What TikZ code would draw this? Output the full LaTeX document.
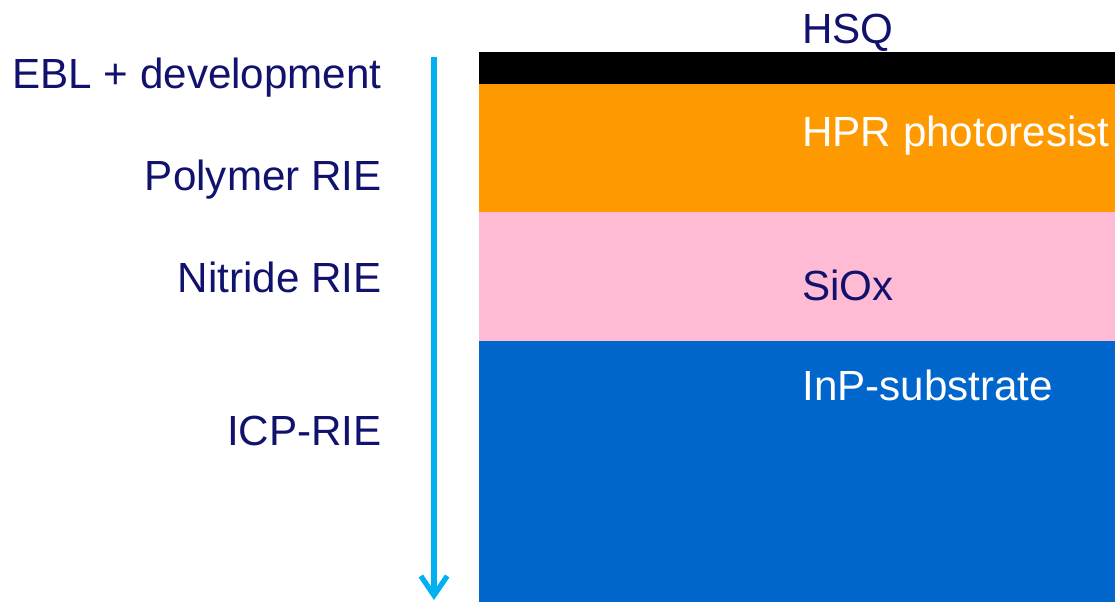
\documentclass[tikz,border=0pt]{standalone}
\usepackage{fontspec}
\setmainfont{Liberation Sans}
\usetikzlibrary{arrows.meta}
\definecolor{navytext}{RGB}{17,17,110}
\definecolor{hprorange}{RGB}{255,153,0}
\definecolor{sioxpink}{RGB}{255,187,212}
\definecolor{inpblue}{RGB}{0,102,204}
\definecolor{arrowblue}{RGB}{0,176,240}
\tikzset{
	steplabel/.style={anchor=base east, inner sep=0pt, text=navytext, font=\fontsize{24}{28}\selectfont},
	layerlabel/.style={anchor=base west, inner sep=0pt, font=\fontsize{24}{28}\selectfont}
}

\begin{document}
\begin{tikzpicture}[x=0.02cm, y=-0.02cm]
			%%%%% START %%%%%
			\useasboundingbox (0, 0) rectangle (1115, 602);
			
			\fill[black] (479, 52) rectangle (1115, 84);
			\fill[hprorange] (479, 84) rectangle (1115, 212);
			\fill[sioxpink] (479, 212) rectangle (1115, 341);
			\fill[inpblue] (479, 341) rectangle (1115, 602);
			
			\node[layerlabel, text=navytext] (hsq) at (802, 43) {HSQ};
			\node[layerlabel, text=white] (hpr) at (802, 146) {HPR photoresist};
			\node[layerlabel, text=navytext] (siox) at (802, 300) {SiOx};
			\node[layerlabel, text=white] (inp) at (802, 400) {InP-substrate};
			
			\node[steplabel] (ebl) at (382, 88) {EBL + development};
			\node[steplabel] (polyrie) at (382, 190) {Polymer RIE};
			\node[steplabel] (nitrie) at (382, 292) {Nitride RIE};
			\node[steplabel] (icprie) at (382, 445) {ICP-RIE};
			
			\coordinate (flowtop) at (434, 57);
			\coordinate (flowend) at (434, 600);
			\draw[arrowblue, line width=3pt, -{Straight Barb[length=11pt, width=15pt, line width=3pt]}] (flowtop) -- (flowend);
			%%%%% END %%%%%
		\end{tikzpicture}
\end{document}
